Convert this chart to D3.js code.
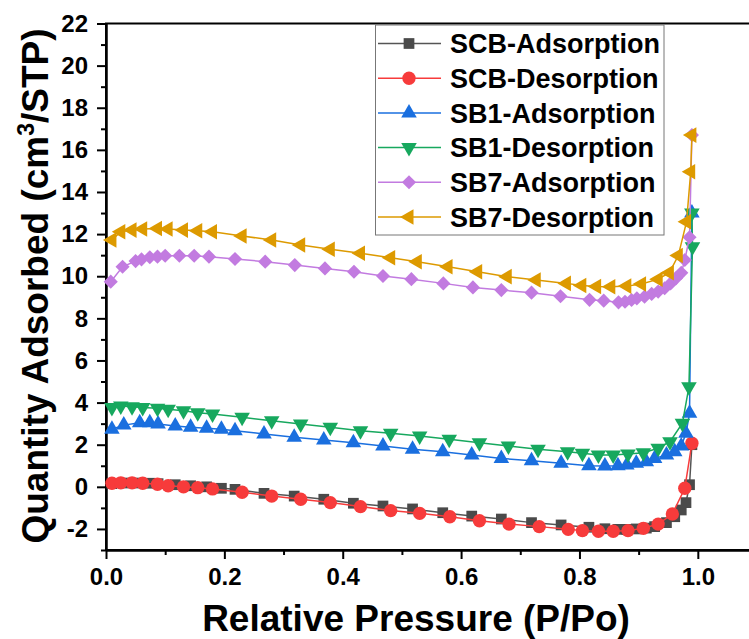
<!DOCTYPE html>
<html>
<head>
<meta charset="utf-8">
<script src="https://cdn.jsdelivr.net/npm/d3@7"></script>
<style>
  body { margin: 0; background: #fff; }
  text { font-family: Arial, "Liberation Sans", sans-serif; font-weight: bold; }
</style>
</head>
<body>
<div id="chart"></div>
<script>
// relative pressure points
const adsP = [0.010, 0.030, 0.057, 0.074, 0.088, 0.117, 0.143, 0.170, 0.195, 0.218, 0.267, 0.318, 0.368, 0.418, 0.468, 0.518, 0.569, 0.618, 0.668, 0.719, 0.769, 0.816, 0.843, 0.865, 0.880, 0.896, 0.913, 0.927, 0.947, 0.961, 0.972, 0.980, 0.986, 0.990];
const scbDesP = [0.010, 0.025, 0.044, 0.062, 0.087, 0.105, 0.131, 0.155, 0.180, 0.230, 0.280, 0.329, 0.379, 0.430, 0.481, 0.530, 0.581, 0.631, 0.681, 0.732, 0.781, 0.805, 0.832, 0.857, 0.882, 0.908, 0.933, 0.957, 0.978, 0.990];
const sb1DesP = [0.010, 0.025, 0.044, 0.062, 0.087, 0.105, 0.131, 0.155, 0.180, 0.230, 0.280, 0.329, 0.379, 0.430, 0.481, 0.530, 0.580, 0.631, 0.680, 0.730, 0.780, 0.805, 0.832, 0.857, 0.882, 0.908, 0.933, 0.953, 0.974, 0.985, 0.991, 0.990];
const sb7AdsP = [0.008, 0.028, 0.050, 0.060, 0.074, 0.087, 0.100, 0.124, 0.149, 0.174, 0.218, 0.269, 0.319, 0.370, 0.419, 0.468, 0.516, 0.570, 0.620, 0.668, 0.719, 0.768, 0.817, 0.841, 0.866, 0.877, 0.888, 0.897, 0.910, 0.922, 0.933, 0.944, 0.954, 0.963, 0.972, 0.978, 0.986, 0.990];
const sb7DesP = [0.010, 0.025, 0.044, 0.062, 0.087, 0.105, 0.131, 0.155, 0.180, 0.230, 0.280, 0.329, 0.379, 0.430, 0.481, 0.526, 0.578, 0.628, 0.678, 0.727, 0.778, 0.804, 0.829, 0.853, 0.880, 0.905, 0.933, 0.952, 0.967, 0.981, 0.988, 0.990];

// quantity adsorbed
const scbAds = [0.15, 0.18, 0.18, 0.17, 0.15, 0.10, 0.05, 0.00, -0.07, -0.12, -0.31, -0.44, -0.59, -0.78, -0.91, -1.05, -1.23, -1.39, -1.53, -1.70, -1.81, -1.92, -1.99, -2.02, -2.02, -2.00, -1.96, -1.89, -1.70, -1.42, -1.10, -0.75, 0.10, 2.00];
const scbDes = [0.17, 0.19, 0.19, 0.17, 0.12, 0.05, 0.00, -0.04, -0.10, -0.26, -0.44, -0.59, -0.75, -0.94, -1.13, -1.26, -1.42, -1.61, -1.77, -1.89, -2.02, -2.08, -2.11, -2.11, -2.08, -1.97, -1.77, -1.29, -0.07, 2.07];
const sb1Ads = [2.73, 2.93, 3.04, 3.04, 2.98, 2.89, 2.83, 2.78, 2.73, 2.66, 2.51, 2.35, 2.22, 2.09, 1.94, 1.78, 1.67, 1.51, 1.35, 1.24, 1.12, 1.00, 0.99, 1.00, 1.04, 1.12, 1.19, 1.35, 1.51, 1.67, 1.94, 2.54, 3.49, 13.0];
const sb1Des = [3.77, 3.84, 3.80, 3.77, 3.73, 3.68, 3.61, 3.52, 3.46, 3.30, 3.14, 2.98, 2.83, 2.66, 2.54, 2.41, 2.26, 2.09, 1.94, 1.78, 1.67, 1.59, 1.51, 1.51, 1.56, 1.62, 1.83, 2.14, 3.02, 4.75, 11.4, 13.0];
const sb7Ads = [9.74, 10.45, 10.72, 10.80, 10.90, 10.93, 10.97, 10.97, 10.97, 10.93, 10.82, 10.69, 10.53, 10.37, 10.21, 10.01, 9.86, 9.66, 9.47, 9.34, 9.22, 9.05, 8.88, 8.84, 8.76, 8.79, 8.87, 8.95, 9.03, 9.16, 9.27, 9.43, 9.66, 9.90, 10.16, 10.77, 11.85, 16.7];
const sb7Des = [11.72, 12.11, 12.19, 12.24, 12.27, 12.24, 12.19, 12.16, 12.11, 11.91, 11.72, 11.48, 11.28, 11.09, 10.88, 10.69, 10.45, 10.21, 9.98, 9.82, 9.66, 9.56, 9.51, 9.50, 9.53, 9.63, 9.86, 10.17, 10.98, 12.59, 14.96, 16.7];

const names = ["SCB-Adsorption", "SCB-Desorption", "SB1-Adsorption", "SB1-Desorption", "SB7-Adsorption", "SB7-Desorption"];
const xTicks = [0, 0.2, 0.4, 0.6, 0.8, 1.0];
const yTicks = [-2, 0, 2, 4, 6, 8, 10, 12, 14, 16, 18, 20, 22];

const width = 749, height = 639;
const colors = ["#4a4a4a", "#f73b3b", "#1a6fdf", "#17a85e", "#c27be0", "#dd9a00"];
const lineColors = ["#555555", "#f73b3b", "#1a6fdf", "#17a85e", "#c27be0", "#dd9a00"];
// symbol, area, rotation
const shapes = [
  [d3.symbolSquare, 115, 0],
  [d3.symbolCircle, 140, 0],
  [d3.symbolTriangle, 105, 0],
  [d3.symbolTriangle, 105, 180],
  [d3.symbolSquare, 100, 45],
  [d3.symbolTriangle, 105, -90]
];

const series = [
  [adsP, scbAds], [scbDesP, scbDes], [adsP, sb1Ads],
  [sb1DesP, sb1Des], [sb7AdsP, sb7Ads], [sb7DesP, sb7Des]
].map(([p, q], i) => ({
  name: names[i],
  pts: p.map((v, j) => [v, q[j]]),
  color: colors[i], line: lineColors[i], shape: shapes[i]
}));

const svg = d3.select("#chart").append("svg")
  .attr("width", width)
  .attr("height", height);

const x = d3.scaleLinear().domain([0, 1.1]).range([106, 757]);
const y = d3.scaleLinear().domain([-3, 22]).range([550, 23.5]);

// frame
svg.append("rect")
  .attr("x", x(0)).attr("y", y(22))
  .attr("width", x(1.1) - x(0)).attr("height", y(-3) - y(22))
  .attr("fill", "none").attr("stroke", "#000").attr("stroke-width", 2);

// axes
svg.append("g")
  .attr("transform", `translate(${x(0)},0)`)
  .call(d3.axisLeft(y).tickValues(yTicks).tickFormat(d => String(d))
    .tickSize(9).tickSizeOuter(0).tickPadding(9));
svg.append("g")
  .attr("transform", `translate(${x(0)},0)`)
  .call(d3.axisLeft(y).tickValues(d3.range(-3, 22, 2)).tickFormat("")
    .tickSize(5).tickSizeOuter(0));

svg.append("g")
  .attr("transform", `translate(0,${y(-3)})`)
  .call(d3.axisBottom(x).tickValues(xTicks).tickFormat(d3.format(".1f"))
    .tickSize(9).tickSizeOuter(0).tickPadding(9));
svg.append("g")
  .attr("transform", `translate(0,${y(-3)})`)
  .call(d3.axisBottom(x).tickValues([0.1, 0.3, 0.5, 0.7, 0.9]).tickFormat("")
    .tickSize(5).tickSizeOuter(0));

svg.selectAll(".domain").attr("stroke-width", 2);
svg.selectAll(".tick line").attr("stroke-width", 2);
svg.selectAll(".tick text")
  .attr("font-size", 24)
  .attr("font-family", "Arial, 'Liberation Sans', sans-serif")
  .attr("font-weight", "bold")
  .attr("fill", "#000");

// axis titles
svg.append("text")
  .attr("x", 416).attr("y", 631)
  .attr("text-anchor", "middle")
  .attr("font-size", 37)
  .text("Relative Pressure (P/Po)");

const yt = svg.append("text")
  .attr("transform", "translate(48,286) rotate(-90)")
  .attr("text-anchor", "middle")
  .attr("font-size", 37);
yt.append("tspan").text("Quantity Adsorbed (cm");
yt.append("tspan").attr("font-size", 23).attr("dy", -14).text("3");
yt.append("tspan").attr("dy", 14).text("/STP)");

// curves
const line = d3.line().x(d => x(d[0])).y(d => y(d[1]));
const symbolPath = s => d3.symbol().type(s[0]).size(s[1])();

series.forEach(s => {
  const g = svg.append("g");
  g.append("path")
    .attr("d", line(s.pts))
    .attr("fill", "none")
    .attr("stroke", s.line)
    .attr("stroke-width", 1.5);
  g.selectAll("path.m")
    .data(s.pts)
    .enter()
    .append("path")
    .attr("class", "m")
    .attr("d", symbolPath(s.shape))
    .attr("transform", d => `translate(${x(d[0])},${y(d[1])}) rotate(${s.shape[2]})`)
    .attr("fill", s.color);
});

// legend
const lg = svg.append("g");
lg.append("rect")
  .attr("x", 375.5).attr("y", 25)
  .attr("width", 288.5).attr("height", 210)
  .attr("fill", "#fff").attr("stroke", "#777").attr("stroke-width", 1);

series.forEach((s, i) => {
  const cy = 43.5 + i * 34.7;
  lg.append("line")
    .attr("x1", 378).attr("x2", 441)
    .attr("y1", cy).attr("y2", cy)
    .attr("stroke", s.line).attr("stroke-width", 1.5);
  lg.append("path")
    .attr("d", symbolPath(s.shape))
    .attr("transform", `translate(409,${cy}) rotate(${s.shape[2]})`)
    .attr("fill", s.color);
  lg.append("text")
    .attr("x", 450).attr("y", cy)
    .attr("dy", "0.36em")
    .attr("font-size", 27)
    .text(s.name);
});
</script>
</body>
</html>
